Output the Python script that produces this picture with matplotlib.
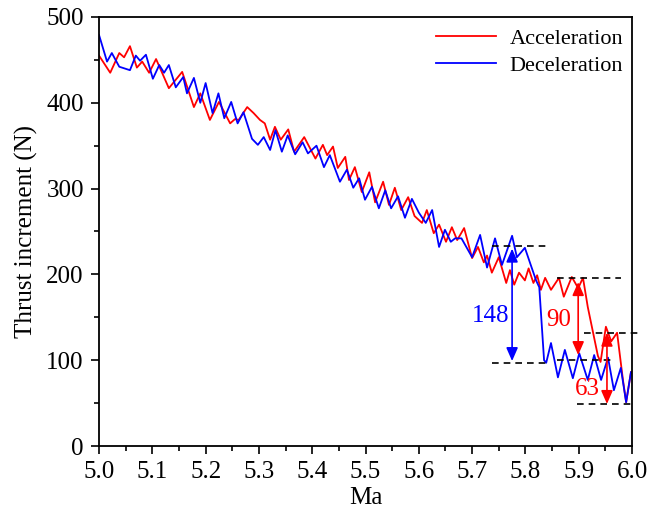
import numpy as np
import matplotlib.pyplot as plt
from matplotlib.ticker import MultipleLocator

plt.rcParams['font.family'] = ['Liberation Serif', 'DejaVu Serif']

# thrust increment while accelerating (Ma, N)
acc_ma = [5.000, 5.021, 5.038, 5.047, 5.058, 5.071, 5.081, 5.094, 5.107, 5.131,
          5.156, 5.178, 5.190, 5.208, 5.225, 5.246, 5.255, 5.262, 5.278, 5.290,
          5.302, 5.311, 5.321, 5.330, 5.341, 5.355, 5.366, 5.385, 5.406, 5.420,
          5.428, 5.439, 5.448, 5.462, 5.469, 5.480, 5.493, 5.507, 5.518, 5.533,
          5.544, 5.555, 5.567, 5.580, 5.592, 5.606, 5.615, 5.628, 5.638, 5.651,
          5.662, 5.672, 5.685, 5.700, 5.711, 5.722, 5.728, 5.737, 5.750, 5.764,
          5.771, 5.779, 5.788, 5.799, 5.806, 5.815, 5.822, 5.829, 5.837, 5.848,
          5.863, 5.872, 5.887, 5.899, 5.908, 5.917, 5.927, 5.936, 5.941, 5.951,
          5.961, 5.972, 5.983, 5.989, 5.998]
acc_thrust = [455, 435, 458, 453, 466, 441, 448, 435, 451, 417,
              436, 395, 411, 380, 401, 376, 381, 380, 395, 388,
              380, 376, 357, 372, 357, 369, 343, 360, 335, 351,
              339, 349, 324, 337, 310, 325, 296, 319, 284, 308,
              281, 301, 275, 290, 268, 260, 275, 248, 258, 238,
              255, 240, 254, 219, 232, 214, 222, 202, 220, 190,
              205, 188, 202, 193, 207, 190, 199, 182, 196, 182,
              196, 174, 197, 184, 196, 162, 132, 105, 98, 139,
              122, 132, 77, 51, 86]

# thrust increment while decelerating (Ma, N)
dec_ma = [5.000, 5.015, 5.024, 5.038, 5.048, 5.058, 5.069, 5.077, 5.088, 5.101,
          5.113, 5.122, 5.131, 5.144, 5.158, 5.165, 5.178, 5.190, 5.200, 5.213,
          5.224, 5.235, 5.248, 5.260, 5.271, 5.287, 5.298, 5.309, 5.321, 5.331,
          5.343, 5.354, 5.368, 5.382, 5.392, 5.408, 5.422, 5.433, 5.452, 5.465,
          5.477, 5.488, 5.499, 5.512, 5.525, 5.537, 5.548, 5.561, 5.574, 5.587,
          5.600, 5.613, 5.625, 5.638, 5.649, 5.660, 5.668, 5.680, 5.700, 5.715,
          5.728, 5.743, 5.756, 5.775, 5.784, 5.799, 5.810, 5.820, 5.826, 5.835,
          5.839, 5.848, 5.861, 5.874, 5.889, 5.901, 5.917, 5.929, 5.942, 5.955,
          5.966, 5.979, 5.989, 5.998]
dec_thrust = [479, 448, 458, 442, 440, 438, 455, 449, 456, 428,
              444, 435, 444, 418, 430, 411, 429, 400, 423, 388,
              411, 382, 401, 376, 389, 358, 351, 360, 345, 368,
              343, 362, 340, 354, 341, 350, 325, 339, 308, 322,
              301, 312, 287, 302, 277, 298, 277, 291, 266, 288,
              272, 260, 275, 232, 252, 238, 242, 242, 220, 246,
              208, 242, 211, 245, 220, 231, 211, 193, 185, 100,
              97, 120, 80, 112, 79, 108, 77, 106, 77, 103,
              65, 91, 51, 86]

# dashed reference levels and their Ma extent
ref_level = [233, 97, 196, 100, 132, 49]
ref_start = [5.737, 5.737, 5.860, 5.860, 5.910, 5.897]
ref_end = [5.843, 5.843, 5.980, 5.965, 6.015, 6.000]

# difference arrows
gap_ma = [5.775, 5.899, 5.953]
gap_low = [99, 106, 49]
gap_high = [230, 191, 132]
gap_text = ['148', '90', '63']
gap_text_ma = [5.734, 5.862, 5.916]
gap_text_y = [151, 147, 66]
gap_color = ['blue', 'red', 'red']

fig = plt.figure(figsize=(6.62, 5.13), dpi=100)
ax = fig.add_axes([0.1496, 0.1306, 0.8051, 0.8363])

ax.plot(acc_ma, acc_thrust, color='red', lw=1.3, label='Acceleration',
        solid_joinstyle='round')
ax.plot(dec_ma, dec_thrust, color='blue', lw=1.3, label='Deceleration',
        solid_joinstyle='round')

for lev, x0, x1 in zip(ref_level, ref_start, ref_end):
    ax.plot([x0, x1], [lev, lev], color='black', lw=1.2,
            linestyle=(0, (4, 3)), clip_on=False, zorder=4)

for x, lo, hi, t, tx, ty, c in zip(gap_ma, gap_low, gap_high, gap_text,
                                    gap_text_ma, gap_text_y, gap_color):
    ax.annotate('', xy=(x, hi), xytext=(x, lo),
                arrowprops=dict(arrowstyle='<|-|>,head_length=0.8,head_width=0.35',
                                color=c, lw=1.2, mutation_scale=10,
                                shrinkA=0, shrinkB=0), zorder=5)
    ax.text(tx, ty, t, color=c, fontsize=18, ha='center', va='center')

ax.set_xlim(5.0, 6.0)
ax.set_ylim(0, 500)
ax.xaxis.set_major_locator(MultipleLocator(0.1))
ax.xaxis.set_minor_locator(MultipleLocator(0.05))
ax.yaxis.set_major_locator(MultipleLocator(100))
ax.yaxis.set_minor_locator(MultipleLocator(50))
ax.tick_params(which='both', direction='out', top=False, right=False,
               labelsize=18, width=1.2, pad=5)
ax.tick_params(which='major', length=6)
ax.tick_params(which='minor', length=3.5)
for s in ax.spines.values():
    s.set_linewidth(1.3)

ax.set_xlabel('Ma', fontsize=18, labelpad=3)
ax.set_ylabel('Thrust increment (N)', fontsize=18, labelpad=6)

ax.legend(loc='upper right', frameon=False, fontsize=16, handlelength=2.7,
          handletextpad=0.6, labelspacing=0.3, borderaxespad=0.0,
          bbox_to_anchor=(1.0, 0.995))

fig.savefig('out.png', dpi=100)
